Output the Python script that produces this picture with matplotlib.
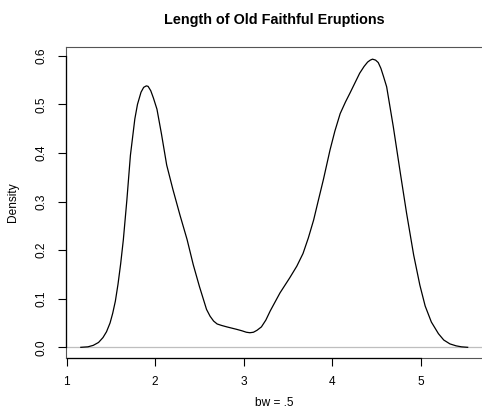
import matplotlib
matplotlib.use("Agg")
import matplotlib.pyplot as plt

# density curve (eruption length, density)
eruption_len = [1.16, 1.24, 1.30, 1.36, 1.41, 1.45, 1.49, 1.52, 1.55, 1.58,
                1.61, 1.64, 1.68, 1.72, 1.77, 1.80, 1.84, 1.87, 1.90, 1.92,
                1.95, 1.98, 2.02, 2.07, 2.13, 2.20, 2.28, 2.36, 2.43, 2.50,
                2.58, 2.62, 2.66, 2.70, 2.75, 2.81, 2.92, 2.98, 3.03, 3.07,
                3.11, 3.15, 3.20, 3.25, 3.30, 3.41, 3.52, 3.60, 3.67, 3.73,
                3.79, 3.84, 3.90, 3.975, 4.03, 4.09, 4.15, 4.20, 4.31, 4.36,
                4.40, 4.43, 4.455, 4.49, 4.52, 4.55, 4.58, 4.615, 4.69, 4.77,
                4.84, 4.92, 4.99, 5.05, 5.12, 5.20, 5.26, 5.33, 5.40, 5.46,
                5.53]
density = [0.000, 0.001, 0.004, 0.010, 0.020, 0.032, 0.050, 0.070, 0.095, 0.130,
           0.172, 0.221, 0.303, 0.395, 0.470, 0.500, 0.525, 0.535, 0.538, 0.537,
           0.528, 0.513, 0.490, 0.440, 0.375, 0.325, 0.272, 0.222, 0.170, 0.125,
           0.078, 0.064, 0.054, 0.048, 0.045, 0.042, 0.037, 0.034, 0.031, 0.030,
           0.031, 0.035, 0.042, 0.056, 0.075, 0.112, 0.143, 0.167, 0.193, 0.225,
           0.262, 0.300, 0.345, 0.406, 0.445, 0.481, 0.505, 0.523, 0.564, 0.578,
           0.587, 0.591, 0.593, 0.591, 0.586, 0.574, 0.557, 0.536, 0.454, 0.358,
           0.276, 0.190, 0.128, 0.085, 0.052, 0.028, 0.015, 0.007, 0.003, 0.001,
           0.000]

x_ticks = [1, 2, 3, 4, 5]
y_ticks = [0.0, 0.1, 0.2, 0.3, 0.4, 0.5, 0.6]

plt.rcParams['font.family'] = ['Liberation Sans', 'DejaVu Sans']

W, H = 482, 409
fig = plt.figure(figsize=(W / 100, H / 100), dpi=100)
ax = fig.add_axes([65.7 / W, 1 - 358 / H, (482.7 - 65.7) / W, (358 - 47) / H])

ax.axhline(0, color='#bebebe', lw=0.9, zorder=1)
ax.plot(eruption_len, density, color='black', lw=0.9, zorder=2)

ax.set_xlim(0.989, 5.70)
ax.set_ylim(-0.022, 0.618)

for side in ['left', 'top', 'bottom', 'right']:
    ax.spines[side].set_color('#555555')
    ax.spines[side].set_linewidth(0.8)

# R-style axis lines spanning first to last tick
ax.plot([x_ticks[0], x_ticks[-1]], [-0.022, -0.022], color='black', lw=0.9,
        clip_on=False, zorder=3)
ax.plot([0.989, 0.989], [y_ticks[0], y_ticks[-1]], color='black', lw=0.9,
        clip_on=False, zorder=3)

ax.set_xticks(x_ticks)
ax.set_xticklabels([str(v) for v in x_ticks])
ax.set_yticks(y_ticks)
ax.set_yticklabels([f"{v:.1f}" for v in y_ticks], rotation=90, va='center')
ax.tick_params(direction='out', length=6, width=0.8, color='black',
               labelsize=8.6, pad=7)

ax.set_ylabel('Density', fontsize=8.6, labelpad=12)
fig.text(274 / W, 1 - 20 / H, 'Length of Old Faithful Eruptions',
         ha='center', va='center', fontsize=10.4, fontweight='bold')
fig.text(274 / W, 1 - 397 / H, 'bw = .5', ha='center', va='top', fontsize=8.6)

fig.savefig('out.png', dpi=100)
